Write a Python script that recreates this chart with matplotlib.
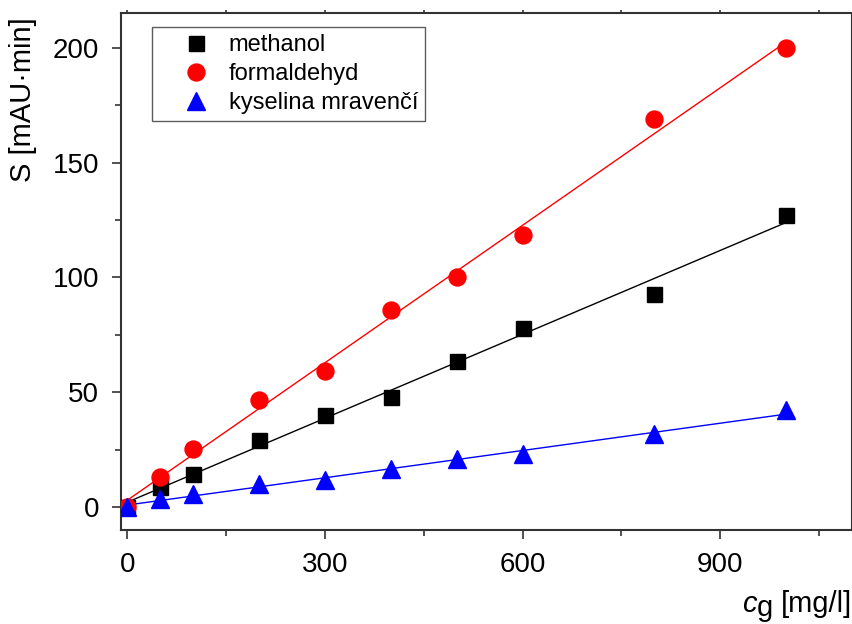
import numpy as np
import matplotlib
matplotlib.use('Agg')
import matplotlib.pyplot as plt
from matplotlib.ticker import MultipleLocator

plt.rcParams['font.family'] = ['Liberation Sans', 'DejaVu Sans']

# concentration [mg/l]
conc = [0, 50, 100, 200, 300, 400, 500, 600, 800, 1000]

# peak areas [mAU.min]
methanol = [0, 8.9, 14.5, 29.1, 39.9, 47.8, 63.8, 78.0, 93.0, 127.4]
formaldehyd = [0, 13.0, 25.5, 46.5, 59.3, 86.0, 100.0, 118.6, 169.1, 200.0]
kyselina = [0, 3.6, 5.7, 9.9, 11.9, 16.4, 21.0, 23.0, 31.6, 42.1]

series = [
    ('methanol', methanol, 'black', 's', 10.8),
    ('formaldehyd', formaldehyd, 'red', 'o', 12.2),
    ('kyselina mravenčí', kyselina, 'blue', '^', 13.5),
]

fig = plt.figure(figsize=(8.53, 6.24), dpi=100)
ax = fig.add_axes([0.1415, 0.1506, 0.8573, 0.828])

x = np.array(conc, dtype=float)
xx = np.array([x.min(), x.max()])
for name, vals, col, mk, ms in series:
    y = np.array(vals)
    k, q = np.polyfit(x, y, 1)
    ax.plot(xx, k * xx + q, color=col, lw=1.0, zorder=2)
    ax.plot(x, y, ls='none', marker=mk, ms=ms, color=col, mec=col,
            label=name, zorder=3)

ax.set_xlim(-10, 1100)
ax.set_ylim(-10, 215)
ax.xaxis.set_major_locator(MultipleLocator(300))
ax.xaxis.set_minor_locator(MultipleLocator(150))
ax.yaxis.set_major_locator(MultipleLocator(50))
ax.yaxis.set_minor_locator(MultipleLocator(25))
ax.tick_params(which='major', direction='out', length=6.5, width=1.2,
               labelsize=20, color='#333333', pad=9)
ax.tick_params(which='minor', direction='out', length=4, width=1.2,
               color='#333333')
for s in ax.spines.values():
    s.set_linewidth(1.5)
    s.set_color('#333333')

# small ticks on top / right
top = ax.secondary_xaxis('top')
top.xaxis.set_major_locator(MultipleLocator(150))
top.tick_params(length=2.5, width=1.2, labeltop=False, color='#333333')
top.spines['top'].set_visible(False)
right = ax.secondary_yaxis('right')
right.yaxis.set_major_locator(MultipleLocator(25))
right.tick_params(length=2.5, width=1.2, labelright=False, color='#333333')
right.spines['right'].set_visible(False)

leg = ax.legend(loc='upper left', bbox_to_anchor=(0.043, 0.9735), fontsize=17,
                frameon=True, fancybox=False, borderpad=0.3,
                labelspacing=0.3, handletextpad=-0.15, handlelength=3.1,
                borderaxespad=0)
leg.get_frame().set_edgecolor('#333333')
leg.get_frame().set_linewidth(1.0)

fig.text(0.010, 0.973, 'S [mAU·min]', rotation=90, va='top', ha='left',
         fontsize=21)

# x axis title: c (italic) with full-size lowered g, then unit
fig.text(742 / 853, 12 / 624, 'c', style='italic', ha='left', va='baseline',
         fontsize=21)
fig.text(757 / 853, 7.5 / 624, 'g', ha='left', va='baseline', fontsize=21)
fig.text(852 / 853, 12 / 624, '[mg/l]', ha='right', va='baseline',
         fontsize=21)

fig.savefig('out.png', dpi=100)
